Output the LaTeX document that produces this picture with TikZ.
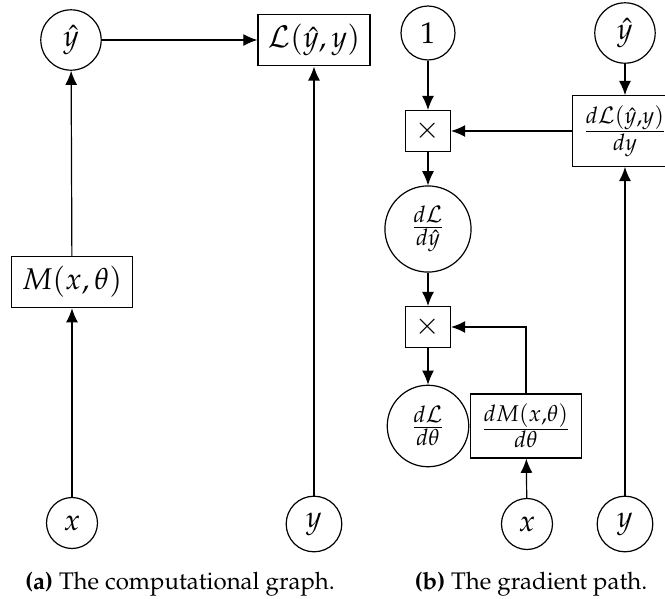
\documentclass[tikz,border=0pt]{standalone}
\usepackage[T1]{fontenc}
\usepackage{mathpazo}
\usepackage{amsmath}
\usetikzlibrary{arrows.meta}

\begin{document}
\begin{tikzpicture}[x=0.33333pt, y=-0.33333pt]
  \tikzset{vr/.style={circle, draw, minimum size=17pt},
    bx/.style={draw, rectangle},
    capt/.style={anchor=base, font=\footnotesize},
    ar/.style={-{Latex[length=4.7pt,width=4pt]}}}
  \useasboundingbox (0,0) rectangle (665,599);
  \node[vr, minimum size=19.7pt] (ha) at (71,40) {$\hat{y}$};
  \node[bx] (la) at (314,40) {$\mathcal{L}(\hat{y},y)$};
  \node[bx] (ma) at (72,282) {$M(x,\theta)$};
  \node[vr] (xa) at (72,523) {$x$};
  \node[vr, minimum size=18pt] (ya) at (314,524) {$y$};
  \draw[ar] (xa) -- (ma);
  \draw[ar] (ma) -- (ha);
  \draw[ar] (ha) -- (la);
  \draw[ar] (ya) -- (la);
  \node[capt] (ca) at (180,590) {\textbf{(a)} The computational graph.};

  \node[vr] (one) at (428,33) {$1$};
  \node[vr, minimum size=19.7pt] (hb) at (625,33) {$\hat{y}$};
  \node[bx] (m1) at (428,131) {$\times$};
  \node[bx, minimum height=22pt] (dy) at (625,131) {$\frac{d\mathcal{L}(\hat{y},y)}{dy}$};
  \node[vr, minimum size=27pt] (dh) at (428,229) {$\frac{d\mathcal{L}}{d\hat{y}}$};
  \node[bx] (m2) at (428,327) {$\times$};
  \node[vr, minimum size=26pt] (dt) at (428,426) {$\frac{d\mathcal{L}}{d\theta}$};
  \node[bx, minimum height=20.7pt] (dm) at (526,426) {$\frac{dM(x,\theta)}{d\theta}$};
  \node[vr] (xb) at (527,524) {$x$};
  \node[vr, minimum size=18pt] (yb) at (625,524) {$y$};
  \draw[ar] (one) -- (m1);
  \draw[ar] (hb) -- (dy);
  \draw[ar] (dy) -- (m1);
  \draw[ar] (m1) -- (dh);
  \draw[ar] (dh) -- (m2);
  \draw[ar] (m2) -- (dt);
  \draw[ar] (dm) |- (m2);
  \draw[ar] (xb) -- (dm);
  \draw[ar] (yb) -- (dy);
  \node[capt] (cb) at (531,590) {\textbf{(b)} The gradient path.};
\end{tikzpicture}
\end{document}
